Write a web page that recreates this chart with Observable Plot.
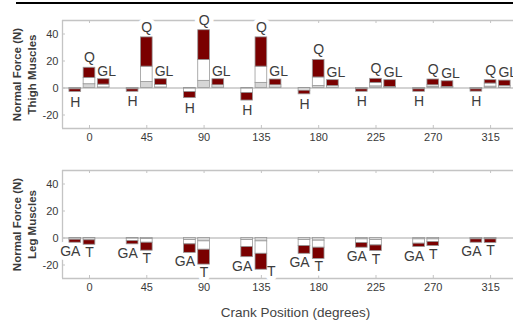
<!DOCTYPE html>
<html><head><meta charset="utf-8">
<script src="https://cdn.jsdelivr.net/npm/d3@7"></script>
<script src="https://cdn.jsdelivr.net/npm/@observablehq/plot@0.6"></script>
<style>
body{margin:0;background:#fff;font-family:"Liberation Sans",Arial,sans-serif;}
#wrap{position:relative;width:513px;height:322px;overflow:hidden;background:#fff;}
#rule{position:absolute;left:16px;top:2px;width:497px;height:2px;background:#000;z-index:3;}
#top{position:absolute;left:0;top:0;}
#bottom{position:absolute;left:0;top:160px;}
</style></head><body>
<div id="wrap"><div id="top"></div><div id="bottom"></div><div id="rule"></div></div>
<script>
// ---- data ----
const crank = [0, 45, 90, 135, 180, 225, 270, 315];
const xTicks = [0, 45, 90, 135, 180, 225, 270, 315];
const yTicks = [40, 20, 0, -20];
const yDomain = [-30, 50];
const xDomain = [-21.2, 333];

const topTitle = "Normal Force (N)\nThigh Muscles";
const bottomTitle = "Normal Force (N)\nLeg Muscles";
const xTitle = "Crank Position (degrees)";

const thighMuscles = ["H", "Q", "GL"];
const H_gray  = [-0.3, -0.3, -0.5, -0.5, -0.4, -0.3, -0.3, -0.3];
const H_white = [-1.0, -1.0, -3.0, -3.7, -2.0, -1.0, -1.0, -1.0];
const H_total = [-3.0, -2.8, -7.5, -9.3, -4.7, -2.8, -2.8, -2.7];
const Q_gray  = [2.8, 4.5, 5.3, 3.8, 1.5, 1.2, 0.8, 1.0];
const Q_white = [7.5, 15.8, 20.8, 15.8, 7.8, 3.8, 2.0, 3.3];
const Q_total = [15.0, 37.5, 42.8, 37.5, 20.8, 6.8, 6.3, 5.8];
const GL_gray  = [0.4, 0.4, 0.4, 0.4, 0.3, 0.3, 0.3, 0.3];
const GL_white = [2.5, 2.2, 2.0, 2.0, 1.5, 0.8, 0.8, 1.5];
const GL_total = [6.5, 6.5, 6.5, 6.3, 5.8, 5.8, 5.0, 5.5];

const legMuscles = ["GA", "T"];
const GA_gray  = [-0.4, -0.5, -1.5, -1.5, -1.5, -1.0, -1.0, -0.3];
const GA_white = [-1.3, -2.2, -4.7, -6.7, -6.0, -3.7, -4.2, -1.0];
const GA_total = [-3.5, -4.7, -11.0, -14.2, -11.7, -7.2, -6.7, -3.5];
const T_gray  = [-0.4, -0.8, -2.5, -2.5, -2.0, -1.5, -1.0, -0.3];
const T_white = [-1.7, -3.5, -8.7, -11.7, -7.2, -5.5, -3.0, -1.0];
const T_total = [-5.0, -9.4, -19.7, -23.5, -15.5, -9.7, -6.0, -3.7];

// ---- layout / style ----
const W = 513;
const slot = 11.15, half = 4.6; // degrees
const colors = {gray: "#d6d6d6", white: "#ffffff", red: "#7a0000"};
const frameColor = "#c4c4c4";
const textColor = "#3a3a3a";

function buildBars(muscles, series, slots) {
  const rows = [];
  muscles.forEach((m, mi) => {
    const s = series[m];
    crank.forEach((c, i) => {
      const cx = c + slots[mi] * slot;
      const b = [0, s.gray[i], s.white[i], s.total[i]];
      ["gray", "white", "red"].forEach((k, j) => {
        rows.push({x1: cx - half, x2: cx + half, y1: b[j], y2: b[j + 1], fill: colors[k]});
      });
    });
  });
  return rows;
}
function buildLabels(muscles, series, slots, place) {
  const rows = [];
  muscles.forEach((m, mi) => {
    const s = series[m];
    crank.forEach((c, i) => {
      const p = place(m, s.total[i]);
      rows.push({x: c + slots[mi] * slot, y: s.total[i], text: m, dx: p.dx, dy: p.dy});
    });
  });
  return rows;
}

function panel({muscles, series, slots, title, place, marginTop, marginBottom, height, withXTitle}) {
  const bars = buildBars(muscles, series, slots);
  const labels = buildLabels(muscles, series, slots, place);
  const frameH = height - marginTop - marginBottom;
  const frameW = W - 62;
  const labelMarks = (halo) => labels.map(l => Plot.text([l], {x: "x", y: "y", text: "text", dx: l.dx, dy: l.dy,
      fontSize: 14, fill: halo ? "white" : "#3c3c3c", stroke: halo ? "white" : null, strokeWidth: halo ? 9 : null}));
  const marks = [
    Plot.ruleY([0], {stroke: frameColor, strokeWidth: 1.3}),
    Plot.ruleY([yDomain[1]], {stroke: frameColor, strokeWidth: 1.3}),
    Plot.ruleY([yDomain[0]], {stroke: frameColor, strokeWidth: 1.3}),
    Plot.ruleX([xDomain[0]], {stroke: frameColor, strokeWidth: 1.3}),
    Plot.tickX(xTicks, {x: d => d, stroke: frameColor, insetBottom: frameH - 3}),
    Plot.tickX(xTicks, {x: d => d, stroke: frameColor, insetTop: frameH - 3}),
    Plot.tickY(yTicks, {y: d => d, stroke: frameColor, insetRight: frameW - 3}),
    ...labelMarks(true),
    Plot.rect(bars, {x1: "x1", x2: "x2", y1: "y1", y2: "y2", fill: "fill", stroke: "#999", strokeWidth: 0.8}),
    ...labelMarks(false),
    Plot.axisX(xTicks, {tickSize: 0, tickPadding: 5, fontSize: 11, color: textColor, label: null}),
    Plot.axisY(yTicks, {tickSize: 0, tickPadding: 4, fontSize: 11, color: textColor, label: null, tickFormat: d => String(d)}),
    Plot.text([title], {frameAnchor: "left", textAnchor: "middle", lineAnchor: "middle", rotate: -90, dx: -39,
      lineHeight: 1.3, fontWeight: "bold", fontSize: 11.5, fill: textColor, text: d => d})
  ];
  if (withXTitle) marks.push(Plot.text([xTitle], {frameAnchor: "bottom", textAnchor: "middle", lineAnchor: "middle",
    dy: 34, dx: 7.5, fontSize: 13.5, fill: "#444", text: d => d}));
  return Plot.plot({
    width: W, height, marginLeft: 62, marginRight: 0, marginTop, marginBottom,
    style: {fontFamily: '"Liberation Sans", Arial, sans-serif', background: "white", overflow: "hidden"},
    x: {domain: xDomain, type: "linear"},
    y: {domain: yDomain},
    marks
  });
}

const topPlot = panel({
  muscles: thighMuscles,
  series: {H: {gray: H_gray, white: H_white, total: H_total},
           Q: {gray: Q_gray, white: Q_white, total: Q_total},
           GL: {gray: GL_gray, white: GL_white, total: GL_total}},
  slots: [-1, 0, 1], title: topTitle,
  place: (m) => m === "H" ? {dx: 0, dy: 10} : m === "Q" ? {dx: 0, dy: -10} : {dx: 3, dy: -8},
  marginTop: 20, marginBottom: 32, height: 160, withXTitle: false
});
const bottomPlot = panel({
  muscles: legMuscles,
  series: {GA: {gray: GA_gray, white: GA_white, total: GA_total},
           T: {gray: T_gray, white: T_white, total: T_total}},
  slots: [-1, 0], title: bottomTitle,
  place: (m, v) => v < -22 ? {dx: 10, dy: 2} : m === "GA" ? {dx: -5, dy: 9} : {dx: 0, dy: 8},
  marginTop: 10, marginBottom: 44, height: 162, withXTitle: true
});
document.getElementById("top").appendChild(topPlot);
document.getElementById("bottom").appendChild(bottomPlot);
</script>
</body></html>
